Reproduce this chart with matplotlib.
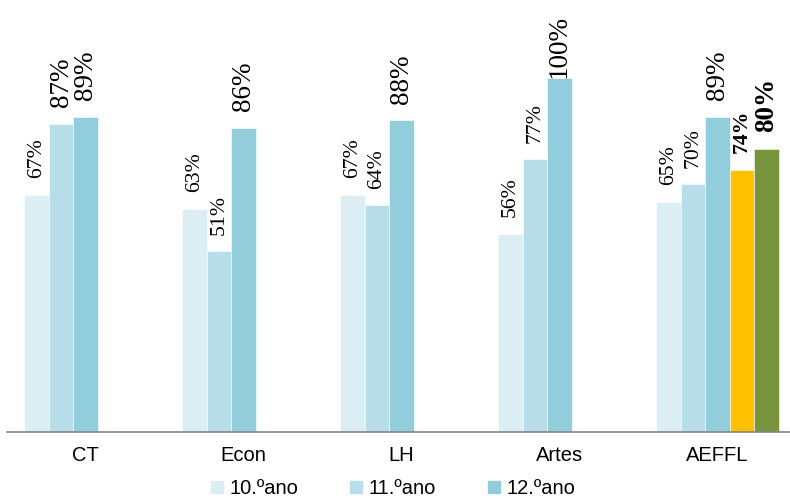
import numpy as np
import matplotlib
matplotlib.use("Agg")
import matplotlib.pyplot as plt
from matplotlib.lines import Line2D

# dados por curso / ano
cursos = ["CT", "Econ", "LH", "Artes", "AEFFL"]
ano10 = [67, 63, 67, 56, 65]
ano11 = [87, 51, 64, 77, 70]
ano12 = [89, 86, 88, 100, 89]
# totais da escola (so AEFFL)
extra_amarelo = 74
extra_verde = 80
legendas = ["10.ºano", "11.ºano", "12.ºano"]

cores = ["#DAEEF3", "#B7DEE8", "#92CDDC"]
cor_amarelo = "#FFC000"
cor_verde = "#77933C"

fig = plt.figure(figsize=(7.9, 5.01), dpi=100)
ax = fig.add_axes([6.5 / 790, 69 / 501, 790 / 790, 432 / 501])

x = np.arange(len(cursos))
w = 0.155
slots = np.array([-2, -1, 0, 1, 2]) * w


def rotulo(xc, v, bold=False):
    tam = 19.5 if v >= 80 else 15.7
    off = 12 if v < 100 else 0
    ax.annotate(f"{v}%", (xc, v), xytext=(0, off), textcoords="offset points",
                rotation=90, ha="center", va="bottom", fontsize=tam,
                family="Liberation Serif", fontweight="bold" if bold else "normal",
                annotation_clip=False)


for i, serie in enumerate([ano10, ano11, ano12]):
    ax.bar(x + slots[i], serie, w, color=cores[i], edgecolor="white", linewidth=0.4)
    for xc, v in zip(x + slots[i], serie):
        rotulo(xc, v)

ia = cursos.index("AEFFL")
ax.bar(ia + slots[3], extra_amarelo, w, color=cor_amarelo, edgecolor="white", linewidth=0.4)
ax.bar(ia + slots[4], extra_verde, w, color=cor_verde, edgecolor="white", linewidth=0.4)
rotulo(ia + slots[3], extra_amarelo, bold=True)
rotulo(ia + slots[4], extra_verde, bold=True)

ax.set_xlim(-0.5, len(cursos) - 0.5)
ax.set_ylim(0, 432 / 3.54)
ax.set_xticks(x)
ax.set_xticklabels(cursos, fontsize=14.5, family="Liberation Sans")
ax.tick_params(axis="x", length=0, pad=10)
ax.set_yticks([])
for s in ["top", "right", "left"]:
    ax.spines[s].set_visible(False)
ax.spines["bottom"].set_color("#868686")
ax.spines["bottom"].set_linewidth(1.2)

handles = [Line2D([], [], marker="s", linestyle="none", markersize=8,
                  markerfacecolor=c, markeredgecolor=c) for c in cores]
fig.legend(handles, legendas, loc="center", bbox_to_anchor=(393 / 790, 12.5 / 501),
           ncol=3, frameon=False, handlelength=0.6, handletextpad=0.3,
           columnspacing=2.6, borderpad=0.1,
           prop={"family": "Liberation Sans", "size": 14.5})

fig.savefig("out.png", dpi=100)
